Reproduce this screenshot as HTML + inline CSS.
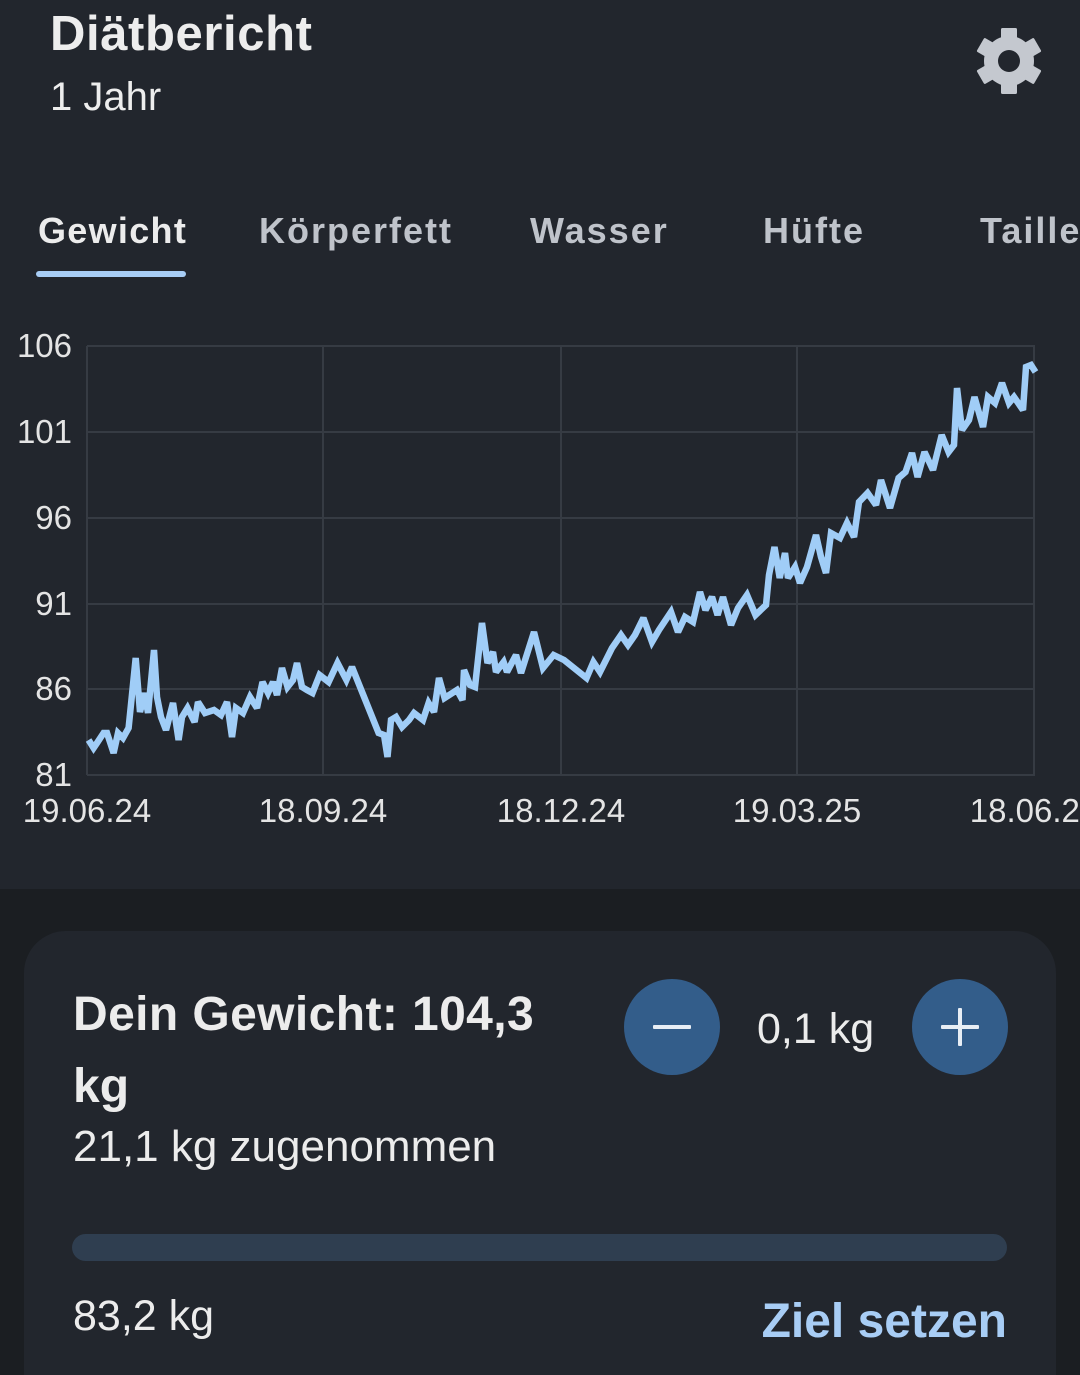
<!DOCTYPE html>
<html><head><meta charset="utf-8"><style>
html,body{margin:0;padding:0;background:#1b1e22;}
svg{display:block;font-family:"Liberation Sans",sans-serif;}
</style></head><body>
<svg width="1080" height="1375" viewBox="0 0 1080 1375" xmlns="http://www.w3.org/2000/svg">
<rect x="0" y="0" width="1080" height="1375" fill="#1b1e22"/>
<rect x="0" y="0" width="1080" height="889" fill="#22262d"/>
<text x="50" y="50" font-size="49" font-weight="bold" fill="#ededed" letter-spacing="0.6">Diätbericht</text>
<text x="50" y="110" font-size="40" fill="#ededed">1 Jahr</text>
<g transform="translate(1009,61)" fill="#c4c8cf">
<circle r="25"/>
<rect x="-8" y="-33" width="16" height="14" rx="1.5"/>
<rect x="-8" y="-33" width="16" height="14" rx="1.5" transform="rotate(60)"/>
<rect x="-8" y="-33" width="16" height="14" rx="1.5" transform="rotate(120)"/>
<rect x="-8" y="-33" width="16" height="14" rx="1.5" transform="rotate(180)"/>
<rect x="-8" y="-33" width="16" height="14" rx="1.5" transform="rotate(240)"/>
<rect x="-8" y="-33" width="16" height="14" rx="1.5" transform="rotate(300)"/>
<circle r="11" fill="#22262d"/>
</g>
<g font-size="36" font-weight="bold" letter-spacing="2">
<text x="38" y="243" fill="#ececec" letter-spacing="1.3">Gewicht</text>
<text x="259" y="243" fill="#bfc3ca">Körperfett</text>
<text x="530" y="243" fill="#bfc3ca">Wasser</text>
<text x="763" y="243" fill="#bfc3ca">Hüfte</text>
<text x="980" y="243" fill="#bfc3ca">Taille</text>
</g>
<rect x="36" y="271" width="150" height="6" rx="3" fill="#a8cdf5"/>
<g stroke="#363b43" stroke-width="2" fill="none">
<line x1="87" y1="346" x2="1035" y2="346"/>
<line x1="87" y1="432" x2="1035" y2="432"/>
<line x1="87" y1="518" x2="1035" y2="518"/>
<line x1="87" y1="604" x2="1035" y2="604"/>
<line x1="87" y1="689" x2="1035" y2="689"/>
<line x1="87" y1="775" x2="1035" y2="775"/>
<line x1="87" y1="346" x2="87" y2="775"/>
<line x1="323" y1="346" x2="323" y2="775"/>
<line x1="561" y1="346" x2="561" y2="775"/>
<line x1="797" y1="346" x2="797" y2="775"/>
<line x1="1034" y1="346" x2="1034" y2="775"/>
</g>
<g font-size="33" fill="#e4e4e4" text-anchor="end">
<text x="72" y="357">106</text>
<text x="72" y="443">101</text>
<text x="72" y="529">96</text>
<text x="72" y="615">91</text>
<text x="72" y="700">86</text>
<text x="72" y="786">81</text>
</g>
<g font-size="33" fill="#e4e4e4" text-anchor="middle">
<text x="87" y="822">19.06.24</text>
<text x="323" y="822">18.09.24</text>
<text x="561" y="822">18.12.24</text>
<text x="797" y="822">19.03.25</text>
<text x="1034" y="822">18.06.25</text>
</g>
<polyline fill="none" stroke="#a0cdf7" stroke-width="6.5" stroke-linejoin="miter" stroke-miterlimit="2.5" points="88.6,740 93.6,748 97,743 103.6,733 107,733 113.6,753 118,733 123,738 128.6,728 135.7,658 140,712 144.6,693 148,713 154,650 157,697 161,717 166,730 173,703 178.6,740 182,717 187.5,708 194.6,722 198,702 205,713 214,710 221,715 227,702 232,737 236,708 243,713 250,697 257,708 262.5,682 268,693 273,682 277,695 282,668 287.5,687 293,680 297,663 302,687 307,690 312.5,693 319.6,675 328.6,682 337.5,663 346.4,680 352,667 378.6,733 384,735 387.5,757 391,720 396,717 402,727 409,720 414,713 423,720 428.6,703 434,712 439,678 444.6,698 457,690 462.5,700 464,670 470,685 475,687 482,623 487.5,663 493,652 496,672 503.6,662 507,672 516,655 521,673 534,632 543,668 553.6,655 564,660 586.5,678 593.4,662 600,672 612,648 621,635 628,645 635,635 643.4,618 652,642 659,630 671,612 678,632 685,617 693,622 700,592 705.5,610 712,597 717.6,615 723,597 731,625 738,608 747,595 755.5,615 766,605 769,575 774.5,547 779.7,578 785,553 788,578 795,567 800,583 807,567 816,535 821,557 826,573 831,533 840,538 847,523 854,537 859,502 867.6,493 876,505 881,480 890,508 898.6,478 905.5,472 912,453 917.6,477 924.5,452 933,470 941.7,435 948.6,452 954,445 957,388 962,430 969,420 974.5,397 983,427 988,397 995,403 1002,383 1009,403 1014,397 1023,410 1026,367 1031,365 1035.5,372"/>
<rect x="24" y="931" width="1032" height="500" rx="42" fill="#22262d"/>
<text x="73" y="1030" font-size="48" font-weight="bold" fill="#ececec" letter-spacing="0.4">Dein Gewicht: 104,3</text>
<text x="73" y="1102" font-size="48" font-weight="bold" fill="#ececec">kg</text>
<text x="73" y="1161" font-size="44" fill="#ececec">21,1 kg zugenommen</text>
<circle cx="672" cy="1027" r="48" fill="#335d8a"/>
<rect x="653" y="1025" width="38" height="4" rx="1" fill="#e8eef5"/>
<text x="757" y="1043" font-size="43" fill="#ececec">0,1 kg</text>
<circle cx="960" cy="1027" r="48" fill="#335d8a"/>
<rect x="941" y="1025" width="38" height="4" rx="1" fill="#e8eef5"/>
<rect x="958" y="1008" width="4" height="38" rx="1" fill="#e8eef5"/>
<rect x="72" y="1234" width="935" height="27" rx="13.5" fill="#2f3e50"/>
<text x="73" y="1330" font-size="43" fill="#ececec">83,2 kg</text>
<text x="1007" y="1337" font-size="48" font-weight="bold" fill="#a8cdf5" text-anchor="end">Ziel setzen</text>
</svg>
</body></html>
